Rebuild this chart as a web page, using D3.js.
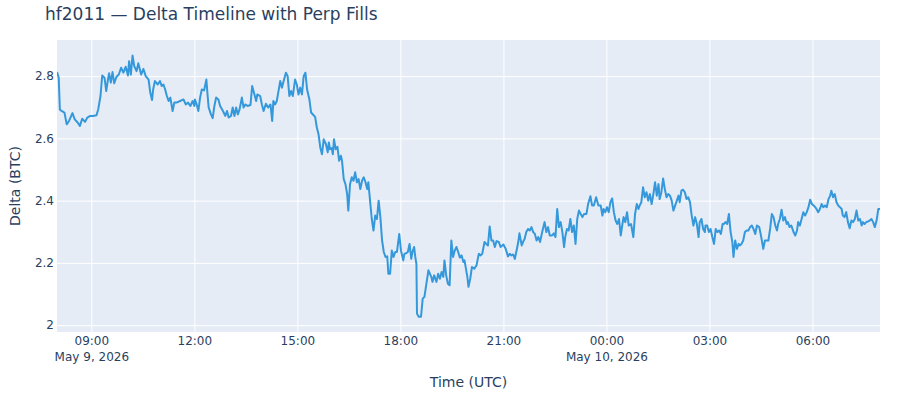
<!DOCTYPE html>
<meta charset="utf-8">

<!-- Load d3.js -->
<script src="https://d3js.org/d3.v7.min.js"></script>

<style>
  body { margin: 0; background: #fff; }
  text { font-family: "DejaVu Sans", verdana, arial, sans-serif; fill: #2a3f5f; }
</style>

<!-- Create a div where the graph will take place -->
<div id="my_dataviz"></div>

<script>
// Start of the series (UTC) and tick settings
var startTime = Date.UTC(2026, 4, 9, 8, 0);
var yTicks = [2, 2.2, 2.4, 2.6, 2.8];
var yDomain = [1.978, 2.916];

// Data: [minutes since start, delta in BTC], split by stretch of the day
var morning = [[0,2.813],[3,2.795],[5,2.693],[8,2.688],[13,2.683],[17,2.645],[21,2.656],[27,2.681],[31,2.661],[36,2.651],
  [40,2.640],[44,2.663],[49,2.653],[53,2.667],[58,2.672],[63,2.672],[69,2.674],[72,2.693],[76,2.736],[79,2.802],
  [83,2.795],[86,2.752],[89,2.789],[91,2.809],[94,2.779],[97,2.813],[100,2.777],[104,2.798],[108,2.805],[112,2.827],
  [116,2.811],[120,2.830],[124,2.802],[126,2.848],[129,2.805],[132,2.866],[135,2.832],[139,2.816],[142,2.841],[147,2.805],
  [151,2.823],[155,2.800],[160,2.789],[163,2.747],[166,2.723],[168,2.757],[171,2.784],[176,2.773],[180,2.784],[183,2.768],
  [186,2.773],[189,2.757],[192,2.736],[195,2.720],[198,2.731],[202,2.688],[205,2.715],[209,2.715],[215,2.720],[221,2.725],
  [225,2.709],[229,2.715],[233,2.704],[237,2.720],[240,2.704]];

var midday = [[241,2.725],[244,2.709],[247,2.688],[250,2.731],[253,2.757],[257,2.754],[261,2.789],[263,2.741],[265,2.699],[269,2.677],
  [272,2.665],[275,2.704],[278,2.731],[282,2.725],[285,2.704],[290,2.688],[294,2.672],[297,2.688],[300,2.667],[304,2.672],
  [307,2.699],[310,2.672],[313,2.699],[316,2.677],[319,2.693],[323,2.731],[326,2.699],[329,2.709],[333,2.704],[338,2.707],
  [341,2.768],[345,2.741],[348,2.720],[350,2.741],[355,2.736],[358,2.709],[361,2.688],[365,2.711],[369,2.699],[373,2.709],
  [376,2.656],[378,2.720],[381,2.709],[384,2.720],[387,2.752],[390,2.784],[393,2.763],[396,2.784],[400,2.811],[403,2.800],
  [406,2.736],[409,2.752],[412,2.736],[416,2.789],[419,2.773],[422,2.741],[425,2.763],[428,2.741],[431,2.800],[434,2.811],
  [437,2.757],[441,2.725],[444,2.683],[448,2.675],[451,2.669],[454,2.635],[457,2.613],[460,2.571],[463,2.549],[466,2.597],
  [470,2.581],[473,2.555]];

var afternoon = [[475,2.587],[477,2.565],[480,2.569],[482,2.549],[484,2.597],[487,2.565],[490,2.573],[493,2.528],[496,2.544],[498,2.528],
  [501,2.469],[504,2.453],[507,2.421],[509,2.368],[512,2.453],[515,2.475],[518,2.464],[521,2.491],[524,2.459],[527,2.469],
  [530,2.437],[533,2.464],[536,2.475],[539,2.459],[542,2.437],[544,2.459],[547,2.400],[550,2.341],[553,2.304],[556,2.352],
  [559,2.341],[562,2.400],[565,2.347],[568,2.272],[571,2.235],[574,2.219],[577,2.221],[579,2.165],[582,2.165],[585,2.240],
  [588,2.219],[591,2.235],[594,2.235],[598,2.293],[601,2.240],[605,2.208],[607,2.229],[610,2.231],[613,2.235],[616,2.261],
  [619,2.213],[621,2.235],[624,2.251],[626,2.219],[628,2.197]];

var evening = [[629,2.037],[632,2.027],[636,2.027],[639,2.085],[642,2.091],[645,2.128],[649,2.176],[654,2.155],[656,2.139],[659,2.160],
  [663,2.139],[666,2.165],[669,2.149],[672,2.171],[675,2.155],[677,2.208],[680,2.160],[683,2.133],[686,2.128],[689,2.272],
  [692,2.219],[695,2.240],[698,2.251],[701,2.235],[704,2.217],[707,2.224],[710,2.203],[712,2.208],[717,2.155],[719,2.123],
  [722,2.149],[725,2.187],[729,2.181],[733,2.192],[737,2.229],[740,2.224],[743,2.229],[747,2.267],[750,2.261],[753,2.256],
  [756,2.317],[759,2.272],[762,2.272],[765,2.251],[768,2.270],[772,2.267],[775,2.251],[780,2.259],[784,2.245],[788,2.221],
  [791,2.229],[794,2.224],[797,2.227],[800,2.213],[803,2.240],[806,2.267],[808,2.295],[812,2.256],[815,2.270],[817,2.277],
  [820,2.299],[823,2.309],[826,2.304],[829,2.315],[832,2.299],[835,2.293],[838,2.272],[841,2.283],[844,2.267],[847,2.293],
  [849,2.309],[852,2.331],[855,2.299],[858,2.315],[861,2.288],[865,2.288],[868,2.295],[871,2.283],[874,2.373],[877,2.315]];

var night = [[880,2.331],[883,2.299],[886,2.251],[888,2.283],[891,2.309],[894,2.304],[897,2.341],[900,2.299],[903,2.320],[906,2.261],
  [909,2.341],[912,2.368],[915,2.357],[918,2.347],[921,2.357],[925,2.357],[928,2.389],[932,2.414],[935,2.384],[938,2.384],
  [942,2.411],[946,2.384],[950,2.384],[953,2.352],[955,2.373],[958,2.363],[961,2.379],[964,2.363],[967,2.395],[970,2.407],
  [973,2.363],[976,2.336],[979,2.325],[982,2.341],[985,2.288],[988,2.325],[990,2.347],[993,2.331],[996,2.363],[999,2.320],
  [1003,2.325],[1007,2.283],[1010,2.357],[1013,2.389],[1016,2.373],[1018,2.384],[1021,2.395],[1024,2.443],[1027,2.411],[1030,2.427],
  [1033,2.400],[1036,2.421],[1039,2.389],[1042,2.421],[1045,2.459],[1048,2.416],[1051,2.453],[1053,2.405],[1056,2.427],[1059,2.471],
  [1062,2.437],[1065,2.411],[1068,2.421],[1071,2.416],[1074,2.400],[1077,2.368],[1080,2.384],[1083,2.400],[1086,2.416],[1088,2.395],
  [1091,2.432],[1094,2.435],[1097,2.427],[1100,2.405],[1103,2.411],[1106,2.395],[1109,2.352],[1112,2.320],[1115,2.347],[1118,2.325],
  [1121,2.283],[1123,2.331],[1126,2.341],[1129,2.309],[1132,2.299]];

var earlyMorning = [[1133,2.320],[1136,2.320],[1139,2.299],[1142,2.309],[1145,2.283],[1148,2.261],[1151,2.309],[1154,2.299],[1157,2.304],[1160,2.293],
  [1163,2.325],[1165,2.325],[1168,2.331],[1171,2.325],[1174,2.357],[1177,2.299],[1180,2.267],[1182,2.219],[1185,2.272],[1188,2.245],
  [1191,2.261],[1193,2.256],[1196,2.261],[1199,2.272],[1202,2.299],[1205,2.304],[1208,2.304],[1211,2.315],[1214,2.320],[1217,2.309],
  [1220,2.293],[1223,2.320],[1227,2.315],[1230,2.288],[1232,2.267],[1234,2.245],[1237,2.272],[1240,2.272],[1243,2.272],[1246,2.309],
  [1249,2.357],[1252,2.347],[1255,2.320],[1258,2.304],[1260,2.325],[1263,2.341],[1266,2.371],[1269,2.336],[1272,2.347],[1275,2.325],
  [1277,2.331],[1280,2.315],[1283,2.320],[1287,2.299],[1290,2.288],[1293,2.304],[1295,2.331],[1298,2.320],[1301,2.341],[1304,2.363],
  [1307,2.352],[1310,2.363],[1313,2.379],[1316,2.403],[1319,2.389],[1322,2.384],[1325,2.379],[1327,2.373],[1330,2.363],[1333,2.373],
  [1336,2.389],[1339,2.379],[1342,2.384],[1345,2.379],[1348,2.405],[1351,2.416],[1353,2.432],[1356,2.411],[1359,2.421],[1362,2.395],
  [1365,2.384],[1368,2.379],[1371,2.373],[1373,2.352],[1376,2.347],[1379,2.363],[1382,2.331],[1385,2.311],[1388,2.336],[1391,2.331],
  [1394,2.341],[1397,2.368],[1400,2.336],[1403,2.341],[1406,2.320],[1408,2.331],[1411,2.325],[1414,2.331],[1417,2.333],[1420,2.336],
  [1423,2.341],[1426,2.331],[1429,2.315],[1432,2.336],[1435,2.373],[1438,2.373]];

// set the dimensions and margins of the graph
var margin = {top: 40, right: 20, bottom: 68, left: 57},
    width = 900 - margin.left - margin.right,
    height = 400 - margin.top - margin.bottom;

var data = morning.concat(midday, afternoon, evening, night, earlyMorning)
  .map(function(d) { return {time: new Date(startTime + d[0] * 60000), delta: d[1]}; });

var root = d3.select("#my_dataviz")
  .append("svg")
    .attr("width", 900)
    .attr("height", 400);

var svg = root.append("g")
    .attr("transform", "translate(" + margin.left + "," + margin.top + ")");

// plot background
svg.append("rect")
  .attr("width", width)
  .attr("height", height)
  .attr("fill", "#e5ecf6");

// scales
var x = d3.scaleUtc()
  .domain(d3.extent(data, function(d) { return d.time; }))
  .range([0, width]);

var y = d3.scaleLinear()
  .domain(yDomain)
  .range([height, 0]);

var xTicks = x.ticks(d3.utcHour.every(3));

// gridlines
svg.append("g")
  .call(d3.axisBottom(x).tickValues(xTicks).tickSize(height).tickFormat(""))
  .call(function(g) { g.select(".domain").remove(); })
  .selectAll(".tick line").attr("stroke", "#fff").attr("stroke-width", 1);

svg.append("g")
  .call(d3.axisLeft(y).tickValues(yTicks).tickSize(-width).tickFormat(""))
  .call(function(g) { g.select(".domain").remove(); })
  .selectAll(".tick line").attr("stroke", "#fff").attr("stroke-width", 1);

// X axis with date on a second line
var fmtTime = d3.utcFormat("%H:%M"),
    fmtDate = d3.utcFormat("%b %-d, %Y");

var xAxis = svg.append("g")
  .attr("transform", "translate(0," + height + ")")
  .call(d3.axisBottom(x).tickValues(xTicks).tickSize(0).tickPadding(4).tickFormat(fmtTime));
xAxis.select(".domain").remove();
xAxis.selectAll("text")
  .style("font-size", "12px")
  .attr("fill", "#2a3f5f")
  .each(function(d, i) {
    if (i === 0 || (d.getUTCHours() === 0 && d.getUTCMinutes() === 0)) {
      d3.select(this).append("tspan")
        .attr("x", 0)
        .attr("dy", "1.35em")
        .text(fmtDate(d));
    }
  });

// Y axis
var yAxis = svg.append("g")
  .call(d3.axisLeft(y).tickValues(yTicks).tickSize(0).tickPadding(3).tickFormat(d3.format("~g")));
yAxis.select(".domain").remove();
yAxis.selectAll("text")
  .style("font-size", "12px")
  .attr("fill", "#2a3f5f");

// clip + line
svg.append("clipPath")
  .attr("id", "plotclip")
  .append("rect")
    .attr("width", width)
    .attr("height", height);

svg.append("path")
  .datum(data)
  .attr("clip-path", "url(#plotclip)")
  .attr("fill", "none")
  .attr("stroke", "#3498db")
  .attr("stroke-width", 2)
  .attr("stroke-linejoin", "round")
  .attr("d", d3.line()
    .x(function(d) { return x(d.time); })
    .y(function(d) { return y(d.delta); }));

// titles
root.append("text")
  .attr("x", 45)
  .attr("y", 20)
  .style("font-size", "17px")
  .text("hf2011 \u2014 Delta Timeline with Perp Fills");

root.append("text")
  .attr("x", margin.left + width / 2)
  .attr("y", 387)
  .attr("text-anchor", "middle")
  .style("font-size", "14px")
  .text("Time (UTC)");

root.append("text")
  .attr("transform", "translate(20," + (margin.top + height / 2) + ") rotate(-90)")
  .attr("text-anchor", "middle")
  .style("font-size", "14px")
  .text("Delta (BTC)");
</script>
